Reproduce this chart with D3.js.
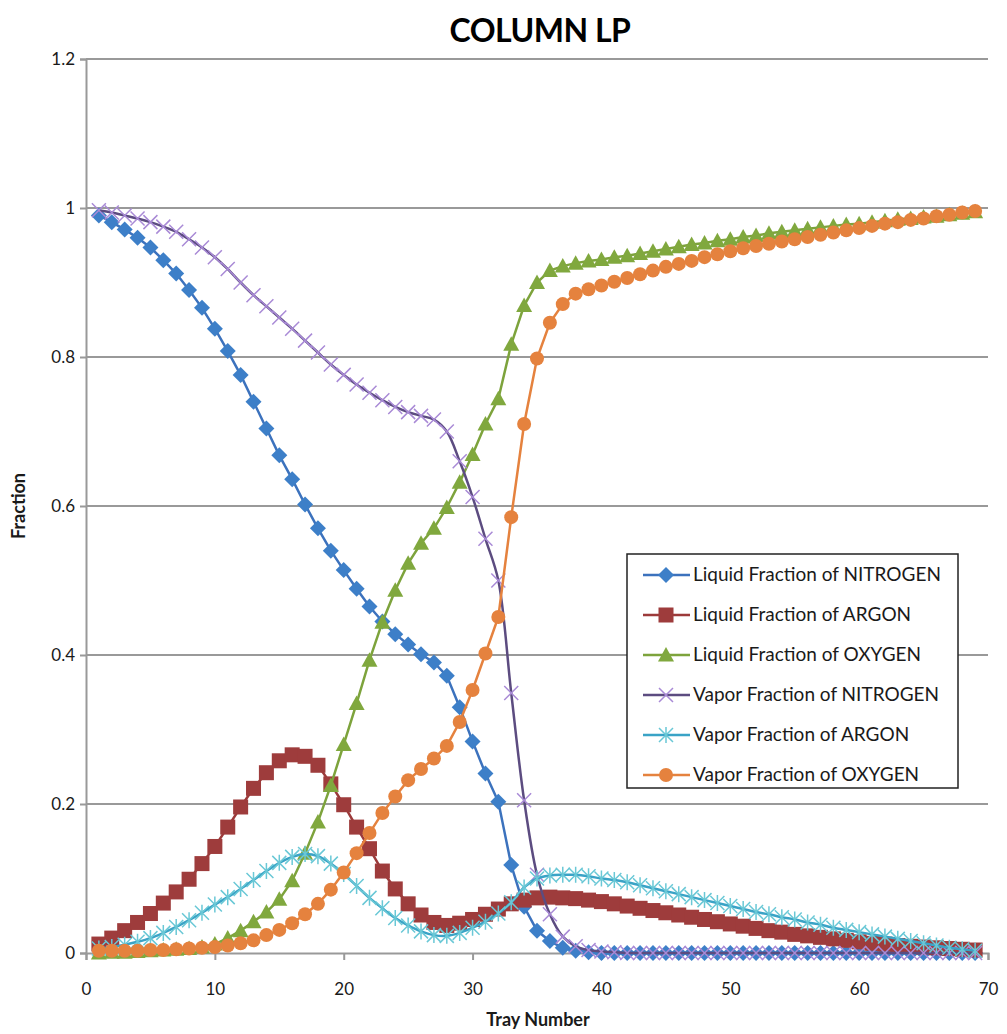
<!DOCTYPE html>
<html>
<head>
<meta charset="utf-8">
<script src="https://cdn.jsdelivr.net/npm/d3@7.9.0/dist/d3.min.js"></script>
<style>
  body { margin: 0; background: #fff; }
  svg { display: block; font-family: Lato, "Open Sans", sans-serif; }
</style>
</head>
<body>
<svg id="chart" width="1007" height="1034"></svg>
<script>
// tray numbers 1..69
const trays = d3.range(1, 70);

// values
const liquidN2 = [0.990, 0.981, 0.971, 0.960, 0.947, 0.930, 0.912, 0.890, 0.866, 0.838,
  0.808, 0.776, 0.740, 0.704, 0.668, 0.636, 0.602, 0.570, 0.540, 0.514,
  0.489, 0.465, 0.445, 0.428, 0.414, 0.401, 0.390, 0.372, 0.330, 0.284,
  0.241, 0.203, 0.118, 0.062, 0.030, 0.016, 0.007, 0.003, 0.001, 0,
  0, 0, 0, 0, 0, 0, 0, 0, 0, 0, 0, 0, 0, 0, 0, 0, 0, 0, 0, 0,
  0, 0, 0, 0, 0, 0, 0, 0, 0];

const liquidAr = [0.012, 0.020, 0.030, 0.041, 0.053, 0.067, 0.082, 0.099, 0.120, 0.143,
  0.169, 0.196, 0.221, 0.242, 0.258, 0.266, 0.264, 0.252, 0.227, 0.199,
  0.169, 0.140, 0.110, 0.086, 0.066, 0.051, 0.041, 0.037, 0.040, 0.045,
  0.052, 0.059, 0.066, 0.071, 0.074, 0.075, 0.074, 0.073, 0.071, 0.069,
  0.066, 0.063, 0.060, 0.057, 0.054, 0.051, 0.048, 0.045, 0.042, 0.039,
  0.036, 0.033, 0.030, 0.028, 0.025, 0.023, 0.021, 0.019, 0.017, 0.015,
  0.013, 0.012, 0.010, 0.009, 0.008, 0.007, 0.006, 0.005, 0.004];

const liquidO2 = [0.000, 0.001, 0.001, 0.002, 0.003, 0.004, 0.005, 0.006, 0.008, 0.012,
  0.020, 0.030, 0.042, 0.055, 0.072, 0.097, 0.134, 0.176, 0.225, 0.280,
  0.335, 0.393, 0.444, 0.487, 0.523, 0.550, 0.570, 0.598, 0.632, 0.669,
  0.710, 0.744, 0.817, 0.869, 0.900, 0.916, 0.922, 0.926, 0.929, 0.931,
  0.934, 0.936, 0.939, 0.942, 0.945, 0.948, 0.951, 0.953, 0.956, 0.958,
  0.961, 0.963, 0.966, 0.968, 0.970, 0.972, 0.974, 0.976, 0.978, 0.979,
  0.981, 0.983, 0.985, 0.986, 0.988, 0.989, 0.991, 0.993, 0.995];

const vaporN2 = [0.997, 0.994, 0.990, 0.986, 0.981, 0.975, 0.968, 0.958, 0.947, 0.934,
  0.918, 0.900, 0.883, 0.868, 0.853, 0.838, 0.822, 0.806, 0.790, 0.776,
  0.763, 0.752, 0.742, 0.733, 0.726, 0.721, 0.716, 0.700, 0.660, 0.612,
  0.556, 0.500, 0.349, 0.205, 0.105, 0.052, 0.022, 0.009, 0.004, 0.002,
  0.001, 0, 0, 0, 0, 0, 0, 0, 0, 0, 0, 0, 0, 0, 0, 0, 0, 0, 0, 0,
  0, 0, 0, 0, 0, 0, 0, 0, 0];

const vaporAr = [0.006, 0.008, 0.011, 0.015, 0.020, 0.027, 0.035, 0.044, 0.054, 0.065,
  0.075, 0.086, 0.098, 0.110, 0.121, 0.129, 0.133, 0.130, 0.120, 0.106,
  0.090, 0.074, 0.060, 0.047, 0.037, 0.029, 0.024, 0.023, 0.027, 0.034,
  0.042, 0.053, 0.068, 0.088, 0.100, 0.104, 0.105, 0.105, 0.103, 0.100,
  0.098, 0.095, 0.091, 0.087, 0.083, 0.079, 0.075, 0.071, 0.067, 0.063,
  0.059, 0.055, 0.052, 0.048, 0.045, 0.041, 0.038, 0.034, 0.031, 0.028,
  0.025, 0.022, 0.019, 0.016, 0.013, 0.010, 0.007, 0.005, 0.003];

const vaporO2 = [0.003, 0.003, 0.003, 0.003, 0.004, 0.004, 0.005, 0.006, 0.007, 0.008,
  0.010, 0.013, 0.017, 0.024, 0.031, 0.040, 0.052, 0.066, 0.085, 0.108,
  0.134, 0.161, 0.188, 0.210, 0.232, 0.247, 0.261, 0.278, 0.310, 0.353,
  0.402, 0.451, 0.585, 0.710, 0.798, 0.846, 0.871, 0.885, 0.891, 0.896,
  0.901, 0.906, 0.911, 0.916, 0.921, 0.925, 0.929, 0.934, 0.938, 0.942,
  0.946, 0.949, 0.952, 0.955, 0.958, 0.961, 0.964, 0.967, 0.970, 0.973,
  0.976, 0.979, 0.981, 0.984, 0.986, 0.989, 0.991, 0.994, 0.996];

const seriesNames = [
  'Liquid Fraction of NITROGEN',
  'Liquid Fraction of ARGON',
  'Liquid Fraction of OXYGEN',
  'Vapor Fraction of NITROGEN',
  'Vapor Fraction of ARGON',
  'Vapor Fraction of OXYGEN'
];
const seriesValues = [liquidN2, liquidAr, liquidO2, vaporN2, vaporAr, vaporO2];
const xTicks = [0, 10, 20, 30, 40, 50, 60, 70];
const yTicks = [0, 0.2, 0.4, 0.6, 0.8, 1, 1.2];

// look of each series (line colour, marker colour, marker shape)
const styles = [
  { line: '#3c72bd', fill: '#3d7fc8', shape: 'diamond', smooth: false },
  { line: '#9c3a3a', fill: '#9e3c3c', shape: 'square', smooth: false },
  { line: '#7da33c', fill: '#80a83e', shape: 'triangle', smooth: false },
  { line: '#5c4c80', fill: '#a98ad6', shape: 'x', smooth: true },
  { line: '#3aa3c6', fill: '#6ac8d6', shape: 'star', smooth: true },
  { line: '#e5823e', fill: '#e5823e', shape: 'circle', smooth: false }
];

const svg = d3.select('#chart');

const x = d3.scaleLinear().domain([0, 70]).range([86, 988]);
const y = d3.scaleLinear().domain([0, 1.2]).range([953, 59]);

// horizontal gridlines
svg.append('g')
  .selectAll('line')
  .data(yTicks.filter(d => d > 0))
  .join('line')
  .attr('x1', x(0)).attr('x2', x(70))
  .attr('y1', d => y(d)).attr('y2', d => y(d))
  .attr('stroke', '#999').attr('stroke-width', 2);

// y axis
const yAxis = svg.append('g')
  .attr('transform', `translate(${x(0)},0)`)
  .call(d3.axisLeft(y).tickValues(yTicks).tickSize(6).tickFormat(d3.format('')));
yAxis.select('.domain').attr('stroke', '#999').attr('stroke-width', 2);
yAxis.selectAll('.tick line').attr('stroke', '#999').attr('stroke-width', 2);
yAxis.selectAll('.tick text')
  .attr('x', -11)
  .attr('font-size', 17).attr('fill', '#1a1a1a')
  .attr('font-family', 'Lato, sans-serif');

// x axis
const xAxis = svg.append('g')
  .attr('transform', `translate(0,${y(0)})`)
  .call(d3.axisBottom(x).tickValues(xTicks).tickSize(7).tickFormat(d3.format('d')));
xAxis.select('.domain').attr('stroke', '#999').attr('stroke-width', 2);
xAxis.selectAll('.tick line').attr('stroke', '#999').attr('stroke-width', 2);
xAxis.selectAll('.tick text')
  .attr('y', 30)
  .attr('font-size', 17).attr('fill', '#1a1a1a')
  .attr('font-family', 'Lato, sans-serif');

// titles
svg.append('text')
  .attr('x', 540).attr('y', 42)
  .attr('text-anchor', 'middle')
  .attr('font-size', 32).attr('font-weight', 'bold')
  .attr('font-family', 'Lato, sans-serif')
  .attr('letter-spacing', -0.5)
  .attr('fill', '#000')
  .text('COLUMN LP');

svg.append('text')
  .attr('x', 538).attr('y', 1026)
  .attr('text-anchor', 'middle')
  .attr('font-size', 18).attr('font-weight', 'bold')
  .attr('fill', '#1a1a1a')
  .text('Tray Number');

svg.append('text')
  .attr('transform', 'translate(25,506) rotate(-90)')
  .attr('text-anchor', 'middle')
  .attr('font-size', 18).attr('font-weight', 'bold')
  .attr('fill', '#1a1a1a')
  .text('Fraction');

// marker drawing helper
function drawMarker(g, shape, st, cx, cy) {
  if (shape === 'diamond') {
    g.append('path')
      .attr('d', `M${cx},${cy - 8}L${cx + 8},${cy}L${cx},${cy + 8}L${cx - 8},${cy}Z`)
      .attr('fill', st.fill);
  } else if (shape === 'square') {
    g.append('rect')
      .attr('x', cx - 7.5).attr('y', cy - 7.5).attr('width', 15).attr('height', 15)
      .attr('fill', st.fill);
  } else if (shape === 'triangle') {
    g.append('path')
      .attr('d', `M${cx},${cy - 8}L${cx + 8},${cy + 6.5}L${cx - 8},${cy + 6.5}Z`)
      .attr('fill', st.fill);
  } else if (shape === 'circle') {
    g.append('circle')
      .attr('cx', cx).attr('cy', cy).attr('r', 7)
      .attr('fill', st.fill);
  } else if (shape === 'x') {
    g.append('path')
      .attr('d', `M${cx - 7},${cy - 7}L${cx + 7},${cy + 7}M${cx - 7},${cy + 7}L${cx + 7},${cy - 7}`)
      .attr('stroke', st.fill).attr('stroke-width', 1.5).attr('fill', 'none');
  } else if (shape === 'star') {
    g.append('path')
      .attr('d', `M${cx - 7},${cy - 7}L${cx + 7},${cy + 7}M${cx - 7},${cy + 7}L${cx + 7},${cy - 7}M${cx},${cy - 8}L${cx},${cy + 8}`)
      .attr('stroke', st.fill).attr('stroke-width', 1.5).attr('fill', 'none');
  }
}

// series lines + markers, drawn in order so later series sit on top
seriesValues.forEach((vals, i) => {
  const st = styles[i];
  const pts = trays.map((t, j) => ({ t: t, v: vals[j] }));
  const g = svg.append('g');
  const line = d3.line()
    .x(d => x(d.t))
    .y(d => y(d.v))
    .curve(st.smooth ? d3.curveCatmullRom.alpha(0.5) : d3.curveLinear);
  g.append('path')
    .datum(pts)
    .attr('d', line)
    .attr('fill', 'none')
    .attr('stroke', st.line)
    .attr('stroke-width', 2.5);
  pts.forEach(p => drawMarker(g, st.shape, st, x(p.t), y(p.v)));
});

// legend
const legend = svg.append('g');
legend.append('rect')
  .attr('x', 627).attr('y', 554).attr('width', 331).attr('height', 234)
  .attr('fill', '#fff').attr('stroke', '#222').attr('stroke-width', 1.5);

seriesNames.forEach((name, i) => {
  const st = styles[i];
  const ly = 575 + i * 40;
  legend.append('line')
    .attr('x1', 643).attr('x2', 690).attr('y1', ly).attr('y2', ly)
    .attr('stroke', st.line).attr('stroke-width', 2.5);
  drawMarker(legend, st.shape, st, 666, ly);
  legend.append('text')
    .attr('x', 693).attr('y', ly + 6)
    .attr('font-size', 19).attr('fill', '#1a1a1a')
    .text(name);
});
</script>
</body>
</html>
